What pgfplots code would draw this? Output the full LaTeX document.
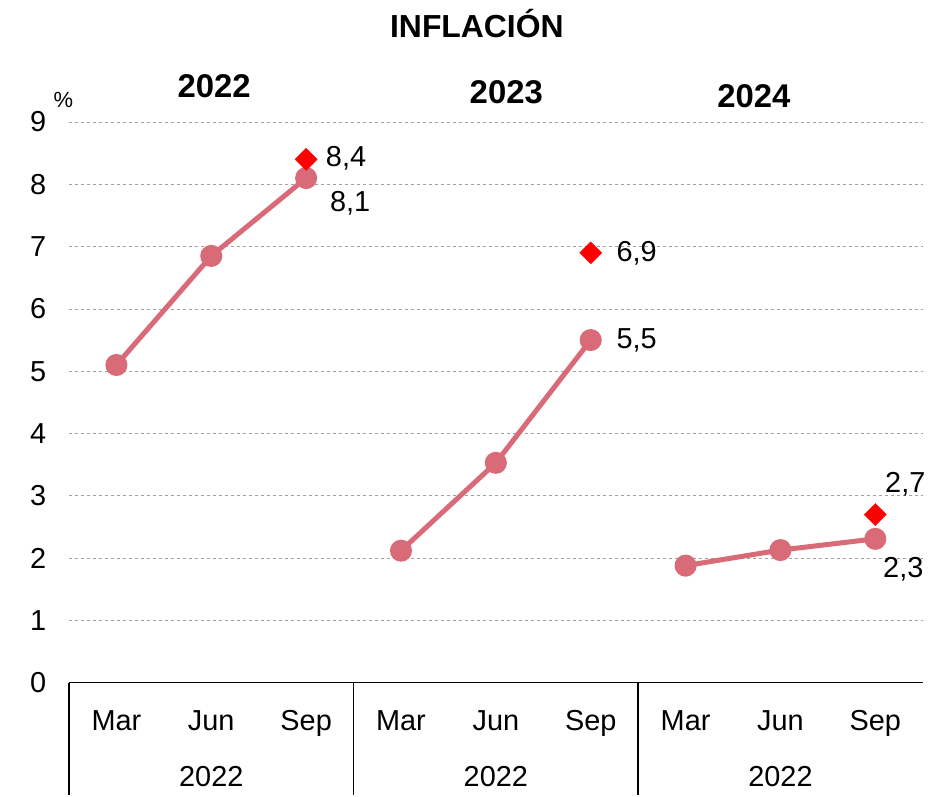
\documentclass[border=0pt]{standalone}
\usepackage{fontspec}
\setmainfont{Liberation Sans}
\usepackage{pgfplots}
\pgfplotsset{compat=1.18}
\definecolor{linea}{HTML}{D96B78}
\definecolor{rejilla}{HTML}{A0A0A0}

\begin{document}
\fontsize{29}{34}\selectfont
\begin{tikzpicture}
\begin{axis}[
 scale only axis,width=854bp,height=561bp,
 xmin=-0.5,xmax=8.5,ymin=0,ymax=9,
 xtick={0,...,8},
 xticklabels={Mar,Jun,Sep,Mar,Jun,Sep,Mar,Jun,Sep},
 ytick={0,...,9},
 axis x line*=bottom,axis y line*=left,
 y axis line style={draw=none},
 x axis line style={line width=1.4bp,-},
 major tick length=0pt,
 ymajorgrids=true,
 grid style={rejilla,line width=0.8bp,dash pattern=on 3bp off 3bp},
 /pgf/number format/assume math mode=true,
 tick label style={font=\fontsize{29}{34}\selectfont},
 yticklabel style={xshift=-13bp},
 xticklabel style={yshift=-18bp},
 clip=false,
]
% series by year
\addplot[linea,line width=5bp,mark=*,mark size=8.5bp,mark options={fill=linea,draw=linea}]
 coordinates {(0,5.1) (1,6.85) (2,8.1)};
\addplot[linea,line width=5bp,mark=*,mark size=8.5bp,mark options={fill=linea,draw=linea}]
 coordinates {(3,2.12) (4,3.53) (5,5.5)};
\addplot[linea,line width=5bp,mark=*,mark size=8.5bp,mark options={fill=linea,draw=linea}]
 coordinates {(6,1.88) (7,2.13) (8,2.31)};
% diamond points
\addplot[only marks,mark=square*,mark size=7.8bp,mark options={fill=red,draw=red,rotate=45}]
 coordinates {(2,8.4) (5,6.9) (8,2.7)};

% data labels
\node[anchor=west] at (axis cs:2,8.4) [xshift=10bp,yshift=1bp] {8,4};
\node at (axis cs:2,8.1) [xshift=44bp,yshift=-25bp] {8,1};
\node[anchor=west] at (axis cs:5,6.9) [xshift=16bp] {6,9};
\node[anchor=west] at (axis cs:5,5.5) [xshift=16bp] {5,5};
\node at (axis cs:8,2.7) [xshift=30bp,yshift=30bp] {2,7};
\node at (axis cs:8,2.31) [xshift=28bp,yshift=-30bp] {2,3};

% titles
\node at (axis cs:3.8,9) [yshift=98bp] {\fontsize{32}{36}\selectfont\bfseries INFLACIÓN};
\node at (axis cs:1.03,9) [yshift=36bp] {\fontsize{33}{36}\selectfont\bfseries 2022};
\node at (axis cs:4.11,9) [yshift=30bp] {\fontsize{33}{36}\selectfont\bfseries 2023};
\node at (axis cs:6.72,9) [yshift=26bp] {\fontsize{33}{36}\selectfont\bfseries 2024};
\node at (axis cs:-0.56,9) [yshift=22bp] {\fontsize{22}{24}\selectfont \%};

% group separators and year labels below
\draw[line width=1.4bp] (axis cs:-0.5,0) -- ++(0bp,-112bp);
\draw[line width=1.4bp] (axis cs:2.5,0) -- ++(0bp,-112bp);
\draw[line width=1.4bp] (axis cs:5.5,0) -- ++(0bp,-112bp);
\node at (axis cs:1,0) [yshift=-94bp] {2022};
\node at (axis cs:4,0) [yshift=-94bp] {2022};
\node at (axis cs:7,0) [yshift=-94bp] {2022};

% page extent
\path (rel axis cs:0,0) ++(-69bp,-112bp);
\path (rel axis cs:1,1) ++(12bp,122bp);
\end{axis}
\end{tikzpicture}
\end{document}
